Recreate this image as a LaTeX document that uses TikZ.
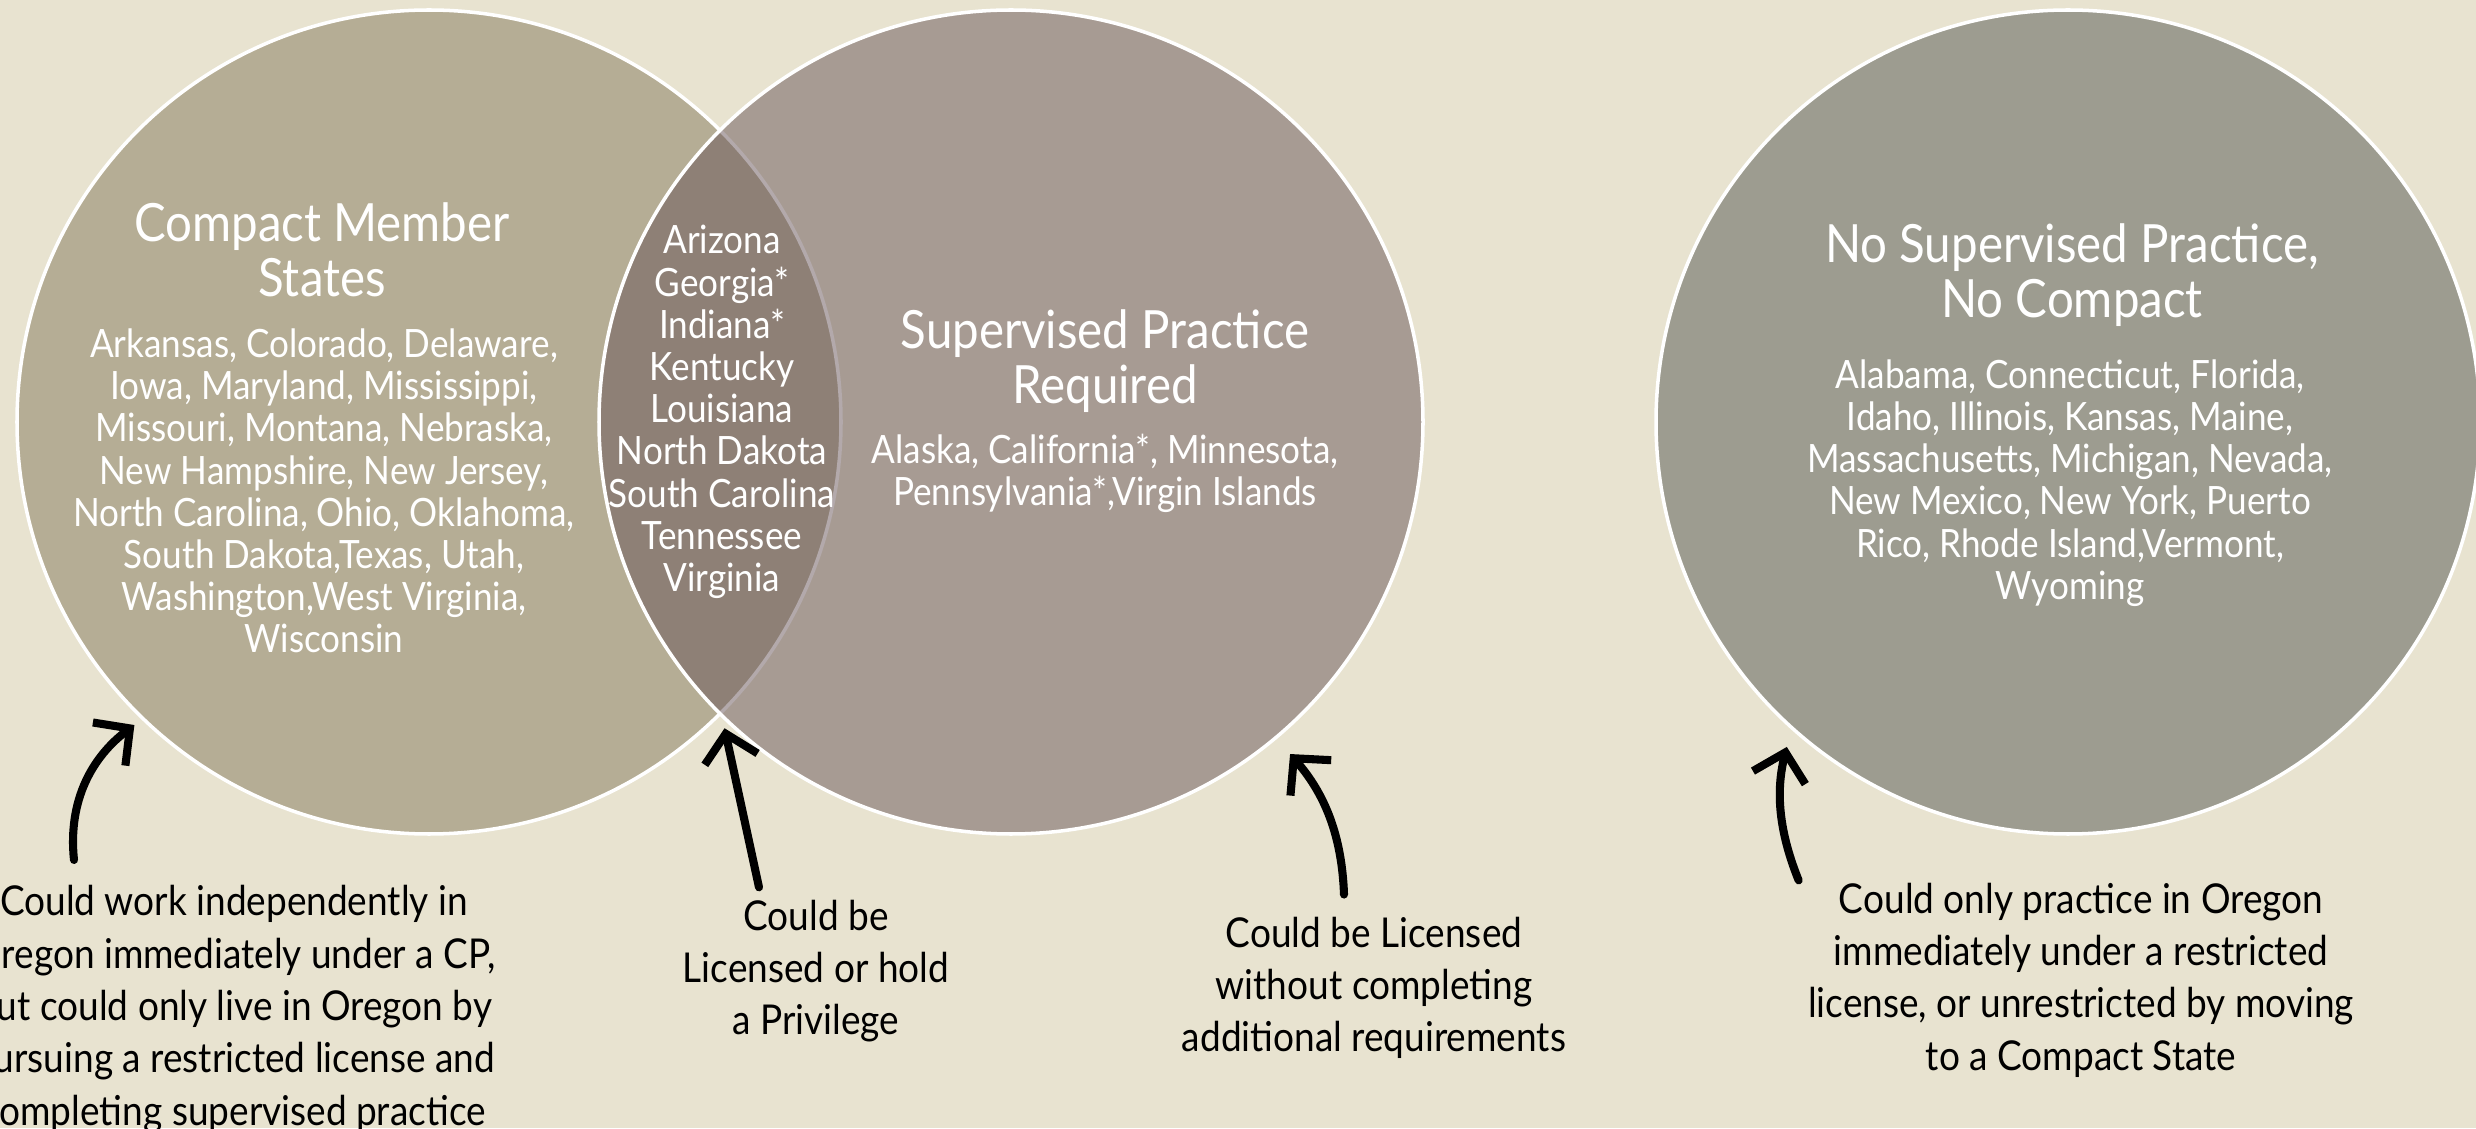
\documentclass[tikz,border=0pt]{standalone}
\usepackage{fontspec}
\setmainfont[FakeStretch=0.9]{Lato}
\usetikzlibrary{positioning, arrows.meta}

\definecolor{paper}{RGB}{232,227,208}
\definecolor{compactfill}{RGB}{181,173,149}
\definecolor{supfill}{RGB}{104,85,88}
\definecolor{nonefill}{RGB}{157,156,144}

\begin{document}
\begin{tikzpicture}[
    venn/.style={circle, draw=white, line width=1pt, minimum size=8.24cm, inner sep=0pt},
    titletext/.style={text=white, align=center, font=\fontsize{15}{15.8}\selectfont},
    statetext/.style={text=white, align=center, font=\fontsize{11.1}{12}\selectfont},
    notetext/.style={text=black, align=center, font=\fontsize{11.7}{14.9}\selectfont},
    pointer/.style={line width=2.3pt, line cap=round, -{Straight Barb[length=2.6mm, width=5.4mm, line width=2.3pt]}}
]
\clip (0,0) rectangle (24.76,11.28);
\fill[paper] (0,0) rectangle (24.76,11.28);

% the three circles, the middle one see-through so the overlap darkens
\node[venn, fill=compactfill](circ_1) at (4.29,7.06){};
\node[venn, fill=supfill, fill opacity=0.5](circ_2) at (10.11,7.06){};
\node[venn, fill=nonefill](circ_3) at (20.68,7.06){};

\node[titletext](title_1) at (3.22,8.78){Compact Member\\States};
\node[statetext](list_1) at (3.24,6.37){Arkansas, Colorado, Delaware,\\Iowa, Maryland, Mississippi,\\Missouri, Montana, Nebraska,\\New Hampshire, New Jersey,\\North Carolina, Ohio, Oklahoma,\\South Dakota,Texas, Utah,\\Washington,West Virginia,\\Wisconsin};
\node[statetext](list_12) at (7.22,7.16){Arizona\\Georgia*\\Indiana*\\Kentucky\\Louisiana\\North Dakota\\South Carolina\\Tennessee\\Virginia};
\node[titletext](title_2) at (11.05,7.67){Supervised Practice\\Required};
\node[statetext](list_2) at (11.05,6.55){Alaska, California*, Minnesota,\\Pennsylvania*,Virgin Islands};
\node[titletext](title_3) at (20.72,8.53){No Supervised Practice,\\No Compact};
\node[statetext](list_3) at (20.70,6.45){Alabama, Connecticut, Florida,\\Idaho, Illinois, Kansas, Maine,\\Massachusetts, Michigan, Nevada,\\New Mexico, New York, Puerto\\Rico, Rhode Island,Vermont,\\Wyoming};

% notes under the circles
\node[notetext](lbl_1) at (2.34,1.19){Could work independently in\\Oregon immediately under a CP,\\but could only live in Oregon by\\pursuing a restricted license and\\completing supervised practice};
\node[notetext](lbl_2) at (8.16,1.57){Could be\\Licensed or hold\\a Privilege};
\node[notetext](lbl_3) at (13.74,1.40){Could be Licensed\\without completing\\additional requirements};
\node[notetext](lbl_4) at (20.81,1.48){Could only practice in Oregon\\immediately under a restricted\\license,  or unrestricted by moving\\to a Compact State};

\draw[pointer, shorten >=0.9mm] ([shift={(-1.6,0.13)}]lbl_1.north) to[out=96, in=217] (circ_1.226);
\draw[pointer, shorten >=1.4mm] ([xshift=-5.7mm]lbl_2.north) -- (circ_1.-45);
\draw[pointer, shorten >=2mm] ([shift={(-0.3,0.1)}]lbl_3.north) to[out=92, in=-49] (circ_2.-50);
\draw[pointer, shorten >=1.8mm] ([shift={(0.03,-0.1)}]lbl_4.north west) to[out=112, in=256] (circ_3.228);
\end{tikzpicture}
\end{document}
